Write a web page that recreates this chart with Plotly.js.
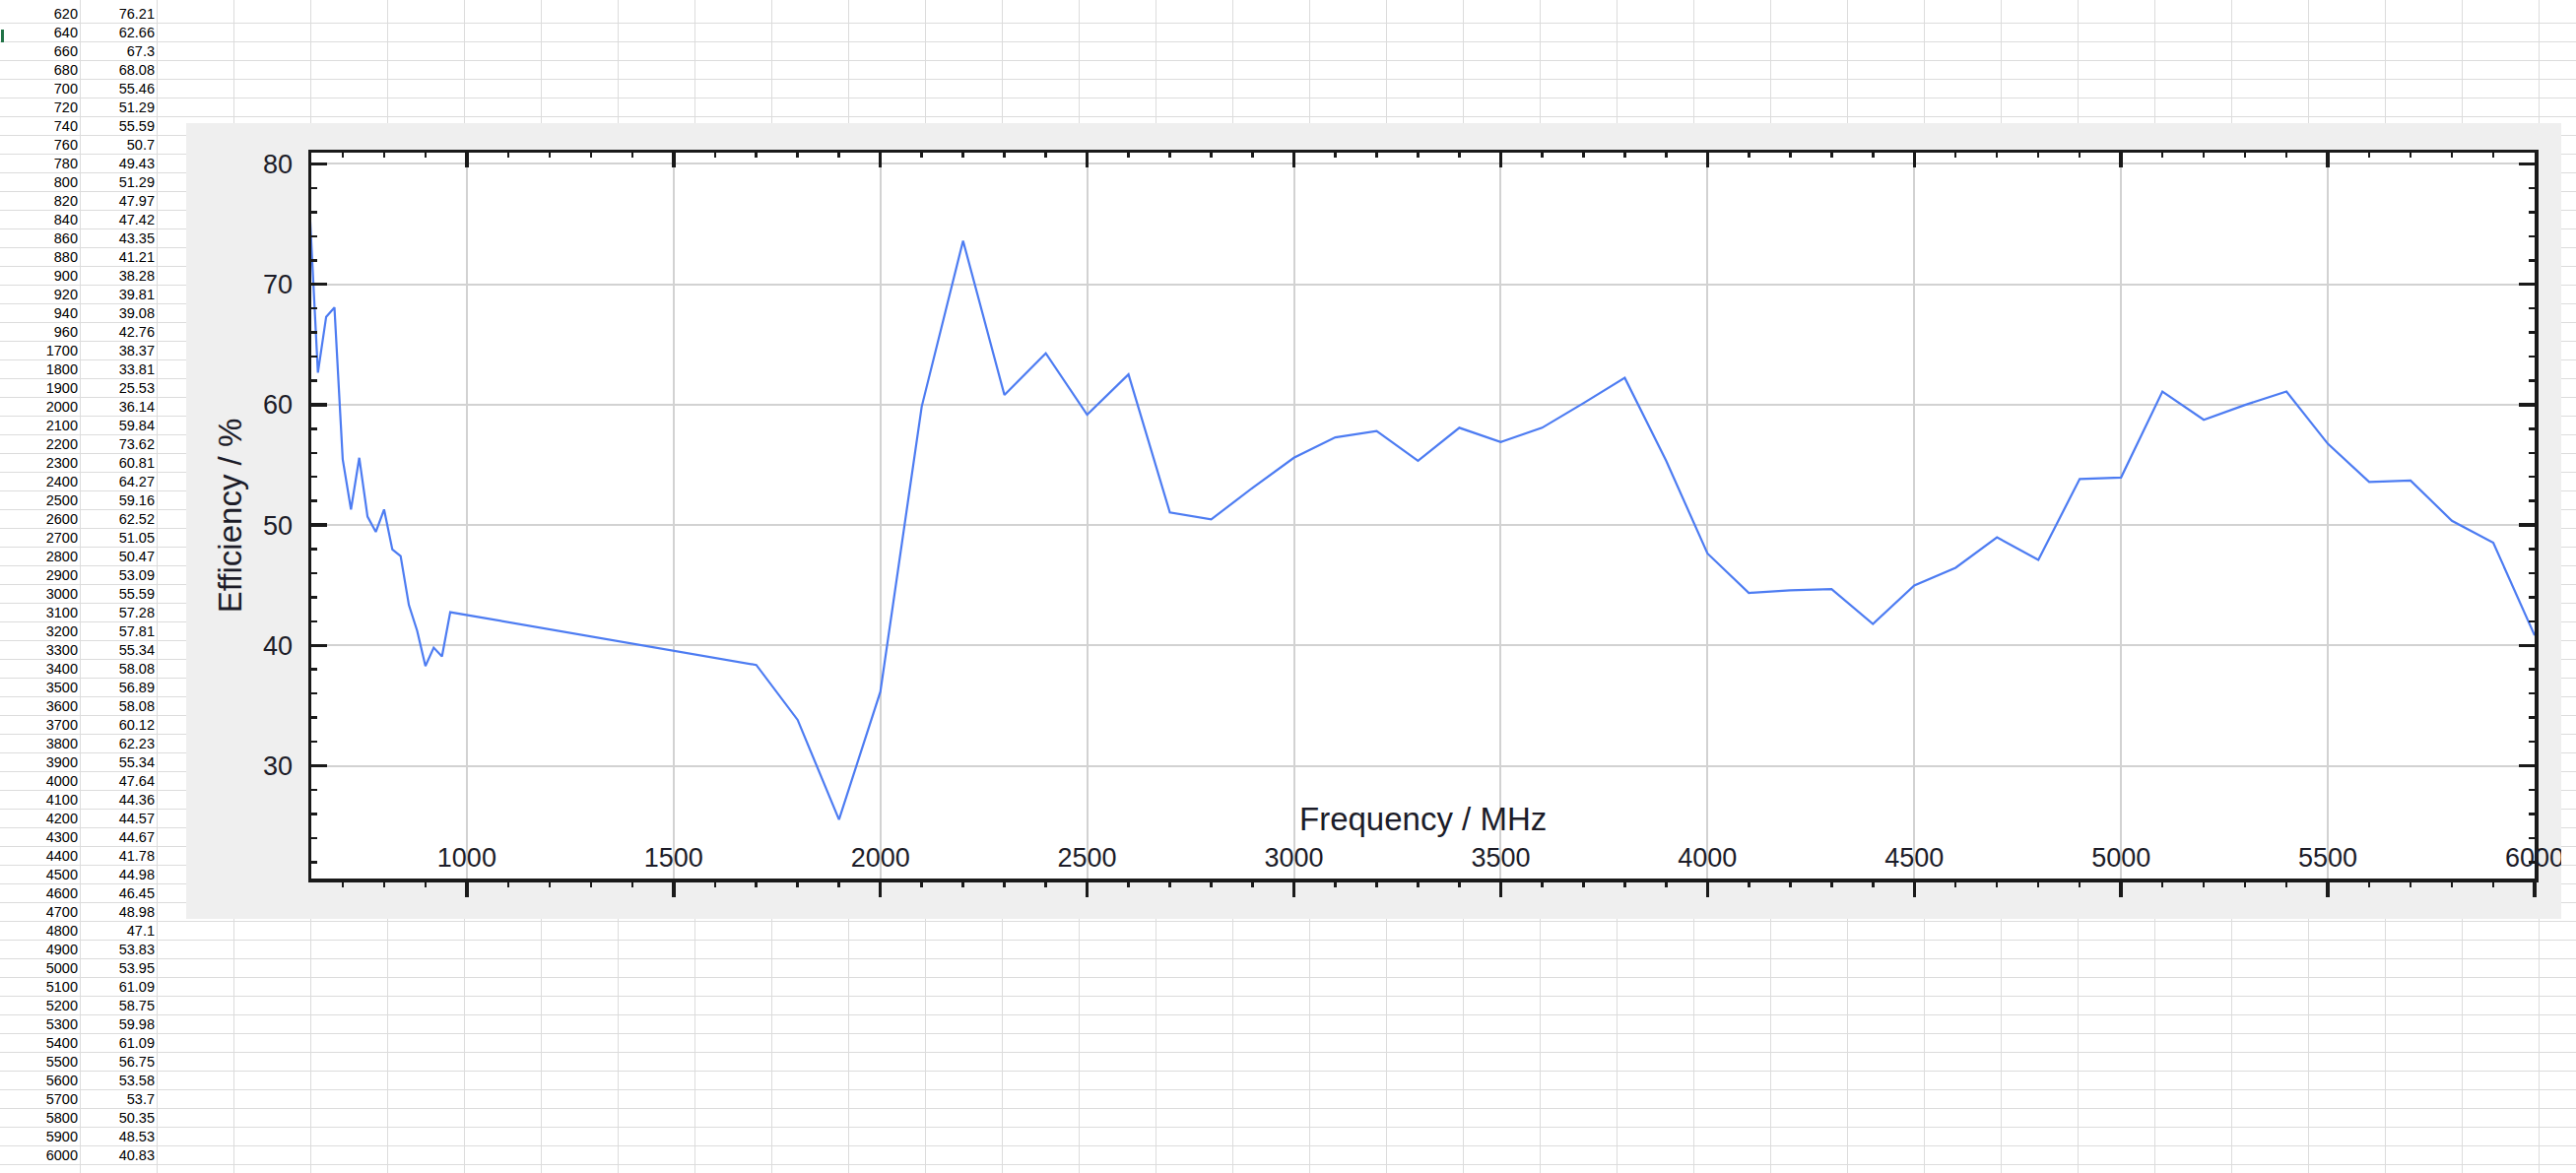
<!DOCTYPE html>
<html>
<head>
<meta charset="utf-8">
<script src="https://cdn.plot.ly/plotly-3.0.1.min.js"></script>
<style>
  html, body { margin: 0; padding: 0; background: #ffffff; }
  body { width: 2615px; height: 1191px; position: relative; overflow: hidden; font-family: "Liberation Sans", Arial, sans-serif; }
  #sheet {
    position: absolute; left: 0; top: 0; width: 2615px; height: 1191px;
    background-image:
      repeating-linear-gradient(to right, transparent 0px, transparent 77px, #dcdcdc 77px, #dcdcdc 78px),
      repeating-linear-gradient(to bottom, transparent 0px, transparent 18px, #dcdcdc 18px, #dcdcdc 19px);
    background-position: 4px 0px, 0px 5px;
  }
  .cell { position: absolute; height: 18px; line-height: 19px; font-size: 14.5px; color: #000; text-align: right; white-space: nowrap; }
  #sel { position: absolute; left: 1px; top: 30px; width: 3px; height: 13px; background: #217346; }
  #wrap { position: absolute; left: 189px; top: 125px; width: 2411px; height: 808px; overflow: hidden; background: #efefef; }
  #chart { width: 2411px; height: 808px; }
</style>
</head>
<body>
<div id="sheet"></div>
<div id="sel"></div>
<div id="cells"></div>
<div id="wrap"><div id="chart"></div></div>
<script>
// ---- data (read from the spreadsheet / chart) ----
const frequencyMHz = [620, 640, 660, 680, 700, 720, 740, 760, 780, 800, 820, 840, 860, 880, 900, 920, 940, 960,
  1700, 1800, 1900, 2000, 2100, 2200, 2300, 2400, 2500, 2600, 2700, 2800, 2900, 3000,
  3100, 3200, 3300, 3400, 3500, 3600, 3700, 3800, 3900, 4000,
  4100, 4200, 4300, 4400, 4500, 4600, 4700, 4800, 4900, 5000,
  5100, 5200, 5300, 5400, 5500, 5600, 5700, 5800, 5900, 6000];
const efficiencyPct = [76.21, 62.66, 67.3, 68.08, 55.46, 51.29, 55.59, 50.7, 49.43, 51.29, 47.97, 47.42, 43.35, 41.21, 38.28, 39.81, 39.08, 42.76,
  38.37, 33.81, 25.53, 36.14, 59.84, 73.62, 60.81, 64.27, 59.16, 62.52, 51.05, 50.47, 53.09, 55.59,
  57.28, 57.81, 55.34, 58.08, 56.89, 58.08, 60.12, 62.23, 55.34, 47.64,
  44.36, 44.57, 44.67, 41.78, 44.98, 46.45, 48.98, 47.1, 53.83, 53.95,
  61.09, 58.75, 59.98, 61.09, 56.75, 53.58, 53.7, 50.35, 48.53, 40.83];
const xTickValues = [1000, 1500, 2000, 2500, 3000, 3500, 4000, 4500, 5000, 5500, 6000];
const yTickValues = [30, 40, 50, 60, 70, 80];
const xTitle = "Frequency / MHz";
const yTitle = "Efficiency / %";

// ---- spreadsheet cells ----
const cells = document.getElementById('cells');
frequencyMHz.forEach((f, i) => {
  const top = 5 + 19 * i;
  const a = document.createElement('div');
  a.className = 'cell'; a.style.left = '4px'; a.style.width = '75px'; a.style.top = top + 'px';
  a.textContent = String(f);
  const b = document.createElement('div');
  b.className = 'cell'; b.style.left = '82px'; b.style.width = '75px'; b.style.top = top + 'px';
  b.textContent = String(efficiencyPct[i]);
  cells.appendChild(a); cells.appendChild(b);
});

// ---- chart ----
const fontFam = '"Liberation Sans", Arial, sans-serif';
const txtCol = '#1c1c28';
const axCol = '#1a1a1a';
const xRange = [624, 6000];
const yRange = [20.63, 80.94];

const trace = {
  x: frequencyMHz, y: efficiencyPct,
  type: 'scatter', mode: 'lines',
  line: { color: '#4d7cf2', width: 2.2 },
  hoverinfo: 'skip', showlegend: false
};

const layout = {
  width: 2411, height: 808,
  margin: { l: 127, r: 27, t: 30, b: 41, pad: 0 },
  paper_bgcolor: '#efefef',
  plot_bgcolor: '#ffffff',
  showlegend: false,
  font: { family: fontFam, color: txtCol },
  xaxis: {
    range: xRange, autorange: false,
    tickmode: 'array', tickvals: xTickValues, ticktext: xTickValues.map(String),
    ticks: 'outside', ticklen: 15, tickwidth: 3.5, tickcolor: axCol,
    ticklabelposition: 'inside', ticklabelstandoff: 9, ticklabeloverflow: 'allow',
    tickfont: { family: fontFam, size: 27, color: txtCol },
    showline: true, linecolor: axCol, linewidth: 3.5, mirror: true,
    showgrid: true, gridcolor: '#d2d2d2', gridwidth: 2,
    zeroline: false,
    minor: { dtick: 100, tick0: 0, ticks: 'outside', ticklen: 5, tickwidth: 2.5, tickcolor: axCol, showgrid: false }
  },
  xaxis2: {
    range: xRange, autorange: false, overlaying: 'x', side: 'top', anchor: 'y',
    tickmode: 'array', tickvals: xTickValues,
    ticks: 'inside', ticklen: 15, tickwidth: 3.5, tickcolor: axCol,
    showticklabels: false, showline: false, showgrid: false, zeroline: false,
    minor: { dtick: 100, tick0: 0, ticks: 'inside', ticklen: 5, tickwidth: 2.5, tickcolor: axCol, showgrid: false }
  },
  yaxis: {
    range: yRange, autorange: false,
    tickmode: 'array', tickvals: yTickValues, ticktext: yTickValues.map(String),
    ticks: 'inside', ticklen: 16, tickwidth: 3.5, tickcolor: axCol,
    ticklabelstandoff: 10,
    tickfont: { family: fontFam, size: 27, color: txtCol },
    showline: true, linecolor: axCol, linewidth: 3.5, mirror: 'ticks',
    showgrid: true, gridcolor: '#d2d2d2', gridwidth: 2,
    zeroline: false,
    title: { text: yTitle, font: { family: fontFam, size: 33, color: txtCol }, standoff: 12 },
    minor: { dtick: 2, tick0: 0, ticks: 'inside', ticklen: 6, tickwidth: 2.5, tickcolor: axCol, showgrid: false }
  },
  annotations: [{
    text: xTitle, xref: 'paper', yref: 'paper', x: 0.5, y: 0.082,
    xanchor: 'center', yanchor: 'middle', showarrow: false,
    font: { family: fontFam, size: 33, color: txtCol }
  }]
};

Plotly.newPlot('chart', [trace, { x: [], y: [], xaxis: 'x2', yaxis: 'y', type: 'scatter', mode: 'lines', showlegend: false, hoverinfo: 'skip' }], layout, { displayModeBar: false, staticPlot: true });
</script>
</body>
</html>
